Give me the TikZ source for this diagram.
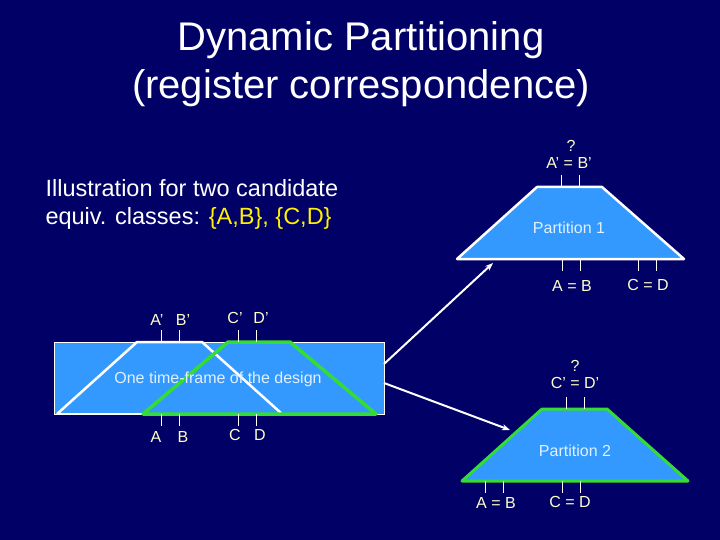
\documentclass[tikz,border=0pt]{standalone}
\usepackage{fontspec}
\usetikzlibrary{arrows.meta}
\setmainfont{Liberation Sans}
\newcommand\sq{\char"0027\relax}
\definecolor{bg}{HTML}{000066}
\definecolor{fillb}{HTML}{3399FF}
\definecolor{grn}{HTML}{33DD33}
\definecolor{lab}{HTML}{FFFFCC}
\begin{document}
\begin{tikzpicture}[x=1pt,y=-1pt,
  wl/.style={white,line width=2.5pt,line join=round},
  gl/.style={grn,line width=3.5pt,line join=round},
  tk/.style={white,line width=0.8pt},
  lb/.style={text=lab,font=\fontsize{16}{18}\selectfont,inner sep=0pt},
  pt/.style={text=white!85!fillb,font=\fontsize{16}{18}\selectfont},
  ar/.style={white,line width=2pt,-{Stealth[length=8pt,width=6pt]}}]
\fill[bg] (0,0) rectangle (720,540);
\useasboundingbox (0,0) rectangle (720,540);
\node[text=white,font=\fontsize{40}{48}\selectfont,align=center] (title) at (361,64) {Dynamic Partitioning\\(register correspondence)};
\node[text=white,font=\fontsize{23.5}{28}\selectfont,align=left,anchor=west] (ill) at (42,204) {Illustration for two candidate\\equiv. classes: \textcolor{yellow}{\{A,B\}, \{C,D\}}};
% left box
\draw[fill=fillb,draw=white,line width=1pt] (54,342) rectangle (384,414);
\coordinate (boxa) at (384,364);
\coordinate (boxb) at (384,383);
\draw[wl] (57,414) -- (137,342) -- (202,342) -- (281,413);
\draw[wl] (57,414) -- (143,414);
\draw[gl] (143,414) -- (228,342) -- (290,342) -- (376,414) -- cycle;
\node[pt] (tf) at (218,379) {One time-frame of the design};
\foreach \x in {161,179,238,256}{\draw[tk] (\x,330) -- (\x,342); \draw[tk] (\x,414) -- (\x,426);}
\node[lb] (ap) at (157,320) {A\sq}; \node[lb] (bp) at (183,320) {B\sq};
\node[lb] (cp) at (235,318) {C\sq}; \node[lb] (dp) at (261,318) {D\sq};
\node[lb] (a) at (156,437) {A}; \node[lb] (b) at (183,437) {B};
\node[lb] (c) at (235,435) {C}; \node[lb] (d) at (260,435) {D};
% partition 1
\draw[fill=fillb,draw=white,line width=2.5pt,line join=round] (457,259) -- (537,187) -- (602,187) -- (684,259) -- cycle;
\node[pt] (p1) at (569,228) {Partition 1};
\coordinate (p1in) at (493,263);
\foreach \x in {561,579}{\draw[tk] (\x,175) -- (\x,187);}
\foreach \x in {562,580,638,656}{\draw[tk] (\x,259) -- (\x,271);}
\node[lb] (q1) at (571,146) {?};
\node[lb] (e1) at (569,163) {A\sq{} = B\sq};
\node[lb] (e2) at (572,286) {A = B};
\node[lb] (e3) at (648,285) {C = D};
% partition 2
\draw[fill=fillb,draw=grn,line width=3pt,line join=round] (462,481) -- (542,409) -- (607,409) -- (688,481) -- cycle;
\node[pt] (p2) at (575,451) {Partition 2};
\coordinate (p2in) at (510,430);
\foreach \x in {566,584}{\draw[tk] (\x,397) -- (\x,409);}
\foreach \x in {485,503,562,580}{\draw[tk] (\x,481) -- (\x,493);}
\node[lb] (q2) at (575,366) {?};
\node[lb] (e4) at (575,383) {C\sq{} = D\sq};
\node[lb] (e5) at (496,503) {A = B};
\node[lb] (e6) at (570,502) {C = D};
\draw[ar] (boxa) -- (p1in);
\draw[ar] (boxb) -- (p2in);
\end{tikzpicture}
\end{document}
